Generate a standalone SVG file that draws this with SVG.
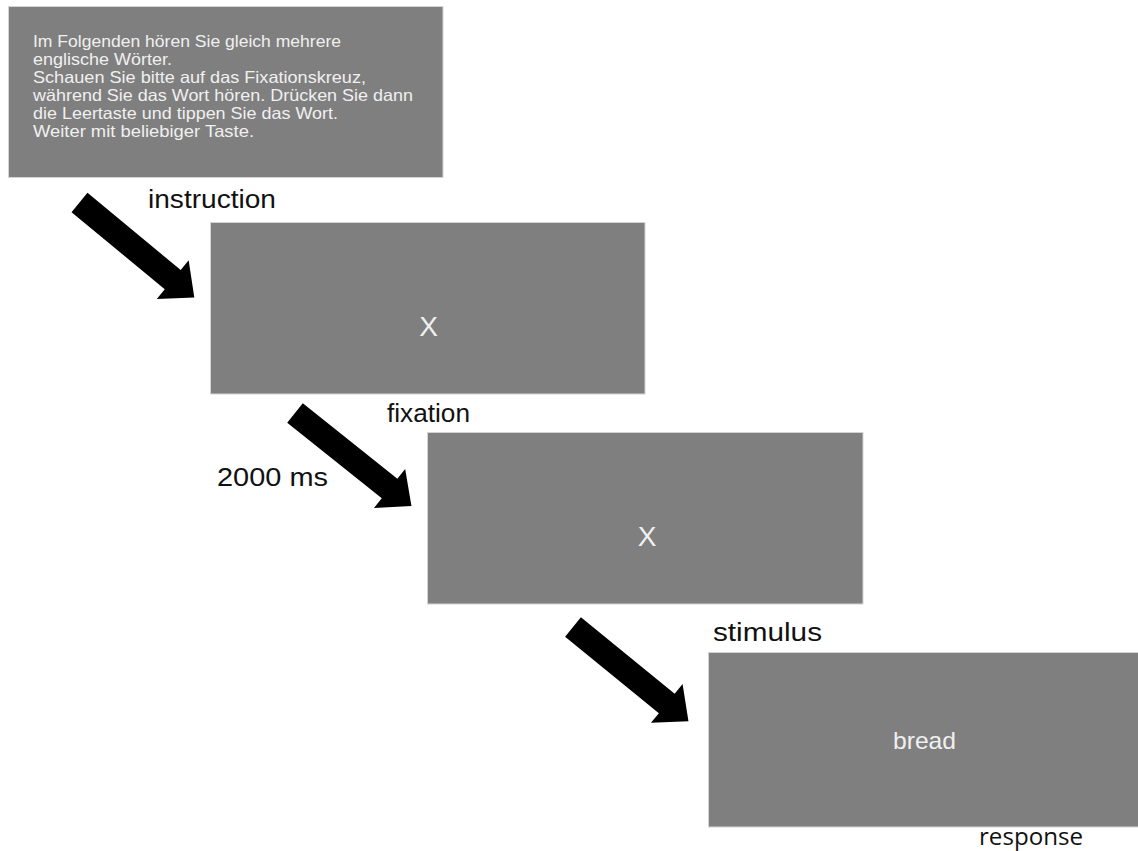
<svg xmlns="http://www.w3.org/2000/svg" width="1138" height="851" viewBox="0 0 1138 851">
<style>
.screen{fill:#7f7f7f;stroke:#d4d4d4;stroke-width:1}
.inner{font-family:"Liberation Sans",Arial,sans-serif;fill:#f0f0f0}
.lbl{font-family:"Liberation Sans",Arial,sans-serif;fill:#111;font-size:25px}
.arrow{fill:#000}
</style>
<defs>
<path id="arr" d="M0,-12.5 L121,-12.5 L121,-25 L149,0 L121,25 L121,12.5 L0,12.5 Z"/>
</defs>
<rect width="1138" height="851" fill="#fff"/>
<g id="instruction">
<rect class="screen" x="8.5" y="6.5" width="434.5" height="171"/>
<text class="inner" font-size="16.5">
<tspan x="33" y="47" textLength="308" lengthAdjust="spacingAndGlyphs">Im Folgenden hören Sie gleich mehrere</tspan>
<tspan x="33" y="65" textLength="139" lengthAdjust="spacingAndGlyphs">englische Wörter.</tspan>
<tspan x="33" y="83" textLength="333" lengthAdjust="spacingAndGlyphs">Schauen Sie bitte auf das Fixationskreuz,</tspan>
<tspan x="33" y="101" textLength="380" lengthAdjust="spacingAndGlyphs">während Sie das Wort hören. Drücken Sie dann</tspan>
<tspan x="33" y="119" textLength="305" lengthAdjust="spacingAndGlyphs">die Leertaste und tippen Sie das Wort.</tspan>
<tspan x="33" y="137" textLength="221" lengthAdjust="spacingAndGlyphs">Weiter mit beliebiger Taste.</tspan>
</text>
<text class="lbl" x="148" y="208" textLength="128" lengthAdjust="spacingAndGlyphs">instruction</text>
</g>
<g id="fixation">
<rect class="screen" x="210.5" y="222.5" width="434.5" height="171.5"/>
<text class="inner" x="428.5" y="336" font-size="28" text-anchor="middle">X</text>
<text class="lbl" x="387" y="421.5" textLength="83" lengthAdjust="spacingAndGlyphs">fixation</text>
<text class="lbl" x="217" y="485.5" textLength="111" lengthAdjust="spacingAndGlyphs">2000 ms</text>
</g>
<g id="stimulus">
<rect class="screen" x="427.5" y="432.5" width="435.5" height="171.5"/>
<text class="inner" x="647" y="546" font-size="28" text-anchor="middle">X</text>
<text class="lbl" x="713" y="641" textLength="109" lengthAdjust="spacingAndGlyphs">stimulus</text>
</g>
<g id="response">
<rect class="screen" x="708.5" y="652.5" width="440" height="174.5"/>
<text class="inner" x="893" y="749" font-size="24" textLength="63" lengthAdjust="spacingAndGlyphs">bread</text>
<text x="979" y="845" font-family="'Open Sans','Liberation Sans',sans-serif" font-size="23" fill="#111" textLength="104" lengthAdjust="spacingAndGlyphs">response</text>
</g>
<g id="connectors" class="arrow">
<use href="#arr" transform="translate(79.5,202.5) rotate(39.6)"/>
<use href="#arr" transform="translate(295,413) rotate(38.6)"/>
<use href="#arr" transform="translate(573,627) rotate(39.2)"/>
</g>
</svg>
